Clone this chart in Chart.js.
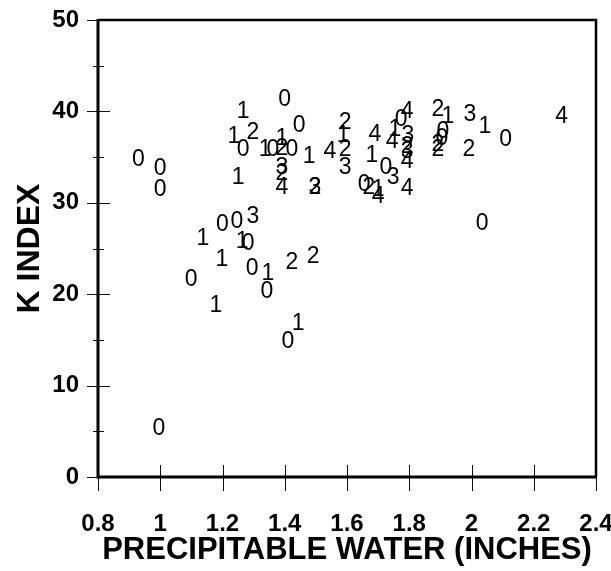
<!DOCTYPE html>
<html>
<head>
<meta charset="utf-8">
<style>
html,body{margin:0;padding:0;background:#fff;}
#wrap{width:611px;height:571px;}
</style>
<script src="https://cdn.jsdelivr.net/npm/chart.js@4/dist/chart.umd.min.js"></script>
</head>
<body>
<div id="wrap"><canvas id="c" width="611" height="571"></canvas></div>
<script>
// Precipitable water (inches)
const pw = [0.93,1.00,1.00,1.266,1.237,1.298,1.266,1.25,1.40,1.446,1.337,1.362,1.391,1.391,1.423,1.391,1.391,1.391,1.478,1.545,1.497,1.497,
  1.594,1.588,1.594,1.594,1.69,1.68,1.725,1.748,1.793,1.655,1.67,1.70,1.70,
  1.793,1.774,1.754,1.796,1.745,1.793,1.793,1.793,
  1.892,1.924,1.995,2.043,2.11,2.29,1.908,1.905,1.892,1.892,1.992,2.034,
  1.137,1.20,1.246,1.298,1.263,1.282,1.198,1.295,1.346,1.343,1.423,1.491,1.099,1.179,1.443,1.41,0.996];
// K index
const kIndex = [34.9,33.9,31.6,40.2,37.4,37.9,36.0,33.0,41.5,38.6,36.0,36.0,37.2,36.1,36.0,34.1,33.4,31.9,35.3,35.8,31.9,31.9,
  39.0,37.5,36.0,34.0,37.7,35.4,34.0,33.0,31.8,32.2,31.9,31.6,30.9,
  40.2,39.3,38.2,37.6,36.9,36.3,35.8,34.7,
  40.4,39.6,39.8,38.5,37.1,39.6,38.0,37.2,36.6,36.0,36.0,27.9,
  26.3,27.8,28.1,28.7,25.9,25.7,24.0,23.0,22.4,20.5,23.7,24.3,21.8,19.0,17.0,15.0,5.5];
// Plotted code (digit label)
const code = ['0','0','0','1','1','2','0','1','0','0','1','0','1','2','0','3','2','4','1','4','3','2',
  '2','1','2','3','4','1','0','3','4','0','2','1','4',
  '4','0','1','3','4','2','3','4',
  '2','1','3','1','0','4','0','0','2','2','2','0',
  '1','0','0','3','1','0','1','0','1','0','2','2','0','1','1','0','0'];

const xTicks = [0.8,1,1.2,1.4,1.6,1.8,2,2.2,2.4];
const yTicks = [0,10,20,30,40,50];
const yMinorTicks = [5,15,25,35,45];
const xTitle = 'PRECIPITABLE WATER (INCHES)';
const yTitle = 'K INDEX';

const pts = pw.map((v,i)=>({x:v,y:kIndex[i]}));
const FONT = '"Liberation Sans", Arial, sans-serif';

const frame = {
  id:'frame',
  afterDatasetsDraw(chart){
    const ctx = chart.ctx, a = chart.chartArea;
    const xs = chart.scales.x, ys = chart.scales.y;
    ctx.save();
    ctx.strokeStyle = '#111';
    ctx.lineWidth = 1;
    xTicks.forEach(v=>{
      const px = Math.round(xs.getPixelForValue(v))+0.5;
      ctx.beginPath(); ctx.moveTo(px,a.bottom-12); ctx.lineTo(px,a.bottom+14); ctx.stroke();
    });
    yTicks.forEach(v=>{
      const py = Math.round(ys.getPixelForValue(v))+0.5;
      ctx.beginPath(); ctx.moveTo(a.left-11,py); ctx.lineTo(a.left+12,py); ctx.stroke();
    });
    yMinorTicks.forEach(v=>{
      const py = Math.round(ys.getPixelForValue(v))+0.5;
      ctx.beginPath(); ctx.moveTo(a.left-5,py); ctx.lineTo(a.left+6,py); ctx.stroke();
    });
    ctx.strokeStyle = '#000';
    ctx.lineWidth = 2.5;
    ctx.beginPath(); ctx.moveTo(a.left,a.top); ctx.lineTo(a.right,a.top); ctx.lineTo(a.right,a.bottom); ctx.stroke();
    ctx.lineWidth = 3;
    ctx.beginPath(); ctx.moveTo(a.left,a.top-1); ctx.lineTo(a.left,a.bottom); ctx.lineTo(a.right+1,a.bottom); ctx.stroke();
    ctx.fillStyle = '#000';
    ctx.font = '23px ' + FONT;
    ctx.textAlign = 'center';
    ctx.textBaseline = 'alphabetic';
    const meta = chart.getDatasetMeta(0);
    meta.data.forEach((el,i)=>{
      ctx.fillText(code[i], el.x, el.y + 8.2);
    });
    ctx.restore();
  }
};

new Chart(document.getElementById('c'), {
  type:'scatter',
  data:{datasets:[{data:pts, pointRadius:0, pointHoverRadius:0, showLine:false}]},
  options:{
    responsive:false,
    animation:false,
    events:[],
    layout:{padding:{top:20,right:15,left:0,bottom:0}},
    plugins:{legend:{display:false},tooltip:{enabled:false}},
    scales:{
      x:{
        type:'linear', min:0.8, max:2.4,
        afterBuildTicks(s){ s.ticks = xTicks.map(v=>({value:v})); },
        afterFit(s){ s.height = 94; s.paddingLeft = 0; s.paddingRight = 0; },
        grid:{display:false}, border:{display:false},
        ticks:{color:'#000', padding:25, maxRotation:0, autoSkip:false,
          font:{family:FONT, size:24, weight:'bold'},
          callback:(v)=>String(Number(v.toFixed(1)))},
        title:{display:true, text:xTitle, color:'#000', padding:{top:0,bottom:2},
          font:{family:FONT, size:31, weight:'bold'}}
      },
      y:{
        type:'linear', min:0, max:50,
        afterBuildTicks(s){ s.ticks = yTicks.map(v=>({value:v})); },
        afterFit(s){ s.width = 98; s.paddingTop = 0; s.paddingBottom = 0; },
        grid:{display:false}, border:{display:false},
        ticks:{color:'#000', padding:11, autoSkip:false,
          font:{family:FONT, size:24, weight:'bold'},
          callback:(v)=>String(v)},
        title:{display:true, text:yTitle, color:'#000', padding:{top:11,bottom:0},
          font:{family:FONT, size:32, weight:'bold'}}
      }
    }
  },
  plugins:[frame]
});
</script>
</body>
</html>
